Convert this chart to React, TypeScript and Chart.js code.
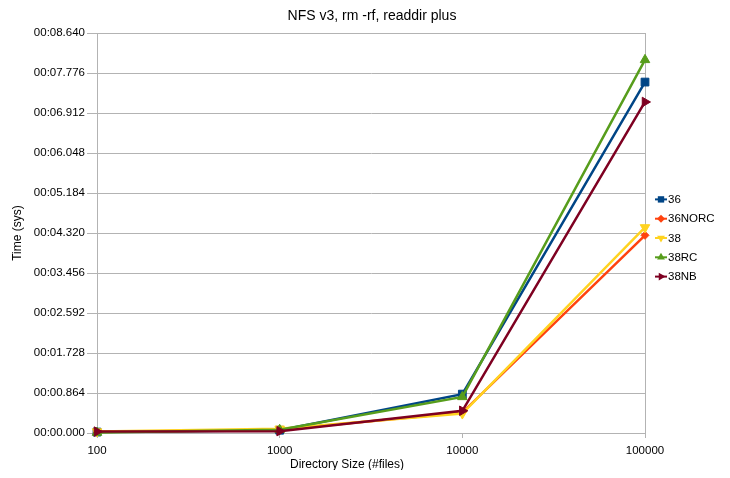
import React, { useEffect, useRef } from "react";
import { Chart, registerables } from "chart.js";

Chart.register(...registerables);

const categories = ["100", "1000", "10000", "100000"];
const seriesNames = ["36", "36NORC", "38", "38RC", "38NB"];
const s36 = [0.02, 0.06, 0.84, 7.58];
const s36NORC = [0.02, 0.07, 0.44, 4.27];
const s38 = [0.03, 0.09, 0.42, 4.44];
const s38RC = [0.01, 0.07, 0.78, 8.06];
const s38NB = [0.03, 0.04, 0.48, 7.15];
const yTicks = [0, 0.864, 1.728, 2.592, 3.456, 4.32, 5.184, 6.048, 6.912, 7.776, 8.64];
const chartTitle = "NFS v3, rm -rf, readdir plus";
const xTitle = "Directory Size (#files)";
const yTitle = "Time (sys)";

const colors = ["#004586", "#ff420e", "#ffd320", "#579d1c", "#7e0021"];
const pointStyles = ["rect", "rectRot", "triangle", "triangle", "triangle"];
const rotations = [0, 0, 180, 0, 90];
const radii = [5.5, 4, 5.5, 5.5, 5.5];
const FONT = "'Liberation Sans', Arial, sans-serif";

function fmt(v: number) {
  const ms = Math.round(v * 1000);
  const m = Math.floor(ms / 60000);
  const s = Math.floor((ms % 60000) / 1000);
  const r = ms % 1000;
  return String(m).padStart(2, "0") + ":" + String(s).padStart(2, "0") + "." + String(r).padStart(3, "0");
}

function drawMarker(ctx: CanvasRenderingContext2D, style: string, rotDeg: number, r: number, x: number, y: number) {
  const rad = (rotDeg * Math.PI) / 180;
  ctx.beginPath();
  if (style === "rect") {
    const s = Math.SQRT1_2 * r;
    ctx.rect(x - s, y - s, 2 * s, 2 * s);
  } else if (style === "rectRot") {
    ctx.moveTo(x - r, y);
    ctx.lineTo(x, y - r);
    ctx.lineTo(x + r, y);
    ctx.lineTo(x, y + r);
    ctx.closePath();
  } else {
    let a = rad;
    ctx.moveTo(x + Math.sin(a) * r, y - Math.cos(a) * r);
    a += (2 * Math.PI) / 3;
    ctx.lineTo(x + Math.sin(a) * r, y - Math.cos(a) * r);
    a += (2 * Math.PI) / 3;
    ctx.lineTo(x + Math.sin(a) * r, y - Math.cos(a) * r);
    ctx.closePath();
  }
  ctx.fill();
}

const extras = {
  id: "extras",
  beforeDatasetsDraw(chart: any) {
    const { ctx, chartArea } = chart;
    ctx.save();
    ctx.strokeStyle = "#b3b3b3";
    ctx.lineWidth = 1;
    ctx.strokeRect(Math.round(chartArea.left) + 0.5, Math.round(chartArea.top) + 0.5, Math.round(chartArea.right - chartArea.left), Math.round(chartArea.bottom - chartArea.top));
    ctx.restore();
  },
  afterDraw(chart: any) {
    const { ctx, chartArea } = chart;
    ctx.save();
    ctx.fillStyle = "#000";
    ctx.textAlign = "center";
    ctx.textBaseline = "middle";
    ctx.font = "14px " + FONT;
    ctx.fillText(chartTitle, (chartArea.left + chartArea.right) / 2 + 1, chartArea.top - 17);
    ctx.font = "12px " + FONT;
    ctx.fillText(xTitle, (chartArea.left + chartArea.right) / 2 - 24, chart.height - 5);
    const ds = chart.data.datasets;
    const rowH = 19.3;
    const cy = (chartArea.top + chartArea.bottom) / 2 + 5;
    const y0 = cy - ((ds.length - 1) * rowH) / 2;
    const lx = chartArea.right + 10;
    ctx.font = "11.5px " + FONT;
    ctx.textAlign = "left";
    for (let i = 0; i < ds.length; i++) {
      const d = ds[i];
      const y = y0 + i * rowH;
      ctx.strokeStyle = d.borderColor;
      ctx.lineWidth = 2;
      ctx.beginPath();
      ctx.moveTo(lx, y);
      ctx.lineTo(lx + 12, y);
      ctx.stroke();
      ctx.fillStyle = d.borderColor;
      drawMarker(ctx, d.pointStyle, d.pointRotation, Math.min(d.pointRadius, 4.5), lx + 6, y);
      ctx.fillStyle = "#000";
      ctx.fillText(d.label, lx + 13, y + 0.5);
    }
    ctx.restore();
  },
};

export default function App() {
  const ref = useRef<HTMLCanvasElement>(null);
  useEffect(() => {
    if (!ref.current) return;
    const series = [s36, s36NORC, s38, s38RC, s38NB];
    const datasets = series.map((data, i) => ({
      label: seriesNames[i],
      data,
      borderColor: colors[i],
      backgroundColor: colors[i],
      borderWidth: 2.5,
      pointStyle: pointStyles[i],
      pointRotation: rotations[i],
      pointRadius: radii[i],
      pointHoverRadius: radii[i],
      pointBorderWidth: 1,
      tension: 0,
      clip: false,
      order: series.length - i,
    }));
    const chart = new Chart(ref.current, {
      type: "line",
      data: { labels: categories, datasets },
      plugins: [extras],
      options: {
        animation: false,
        responsive: false,
        maintainAspectRatio: false,
        layout: { padding: { left: 0, right: 77, top: 25, bottom: 0 } },
        plugins: {
          legend: { display: false },
          tooltip: { enabled: false },
          title: { display: false },
        },
        scales: {
          x: {
            type: "category",
            offset: false,
            grid: { drawOnChartArea: false, drawTicks: true, tickLength: 5, color: "#b3b3b3" },
            border: { color: "#b3b3b3" },
            ticks: { color: "#000", font: { family: FONT, size: 11.5 }, padding: 6, maxRotation: 0 },
            afterFit: (s: any) => { s.height = 37; },
          },
          y: {
            type: "linear",
            min: 0,
            max: 8.64,
            afterBuildTicks: (s: any) => { s.ticks = yTicks.map((v) => ({ value: v })); },
            grid: { color: "#b3b3b3", tickLength: 10, drawTicks: true },
            border: { color: "#b3b3b3" },
            ticks: { color: "#000", font: { family: FONT, size: 11.5 }, padding: 2, callback: (v: any) => fmt(Number(v)) },
            title: { display: true, text: yTitle, color: "#000", font: { family: FONT, size: 12 }, padding: { top: 2.8, bottom: 0 } },
            afterFit: (s: any) => { s.width = 89; },
          },
        },
      } as any,
    });
    return () => chart.destroy();
  }, []);
  return (
    <div style={{ width: 714, height: 462 }}>
      <canvas ref={ref} width={714} height={462} style={{ width: 714, height: 462, display: "block" }} />
    </div>
  );
}
